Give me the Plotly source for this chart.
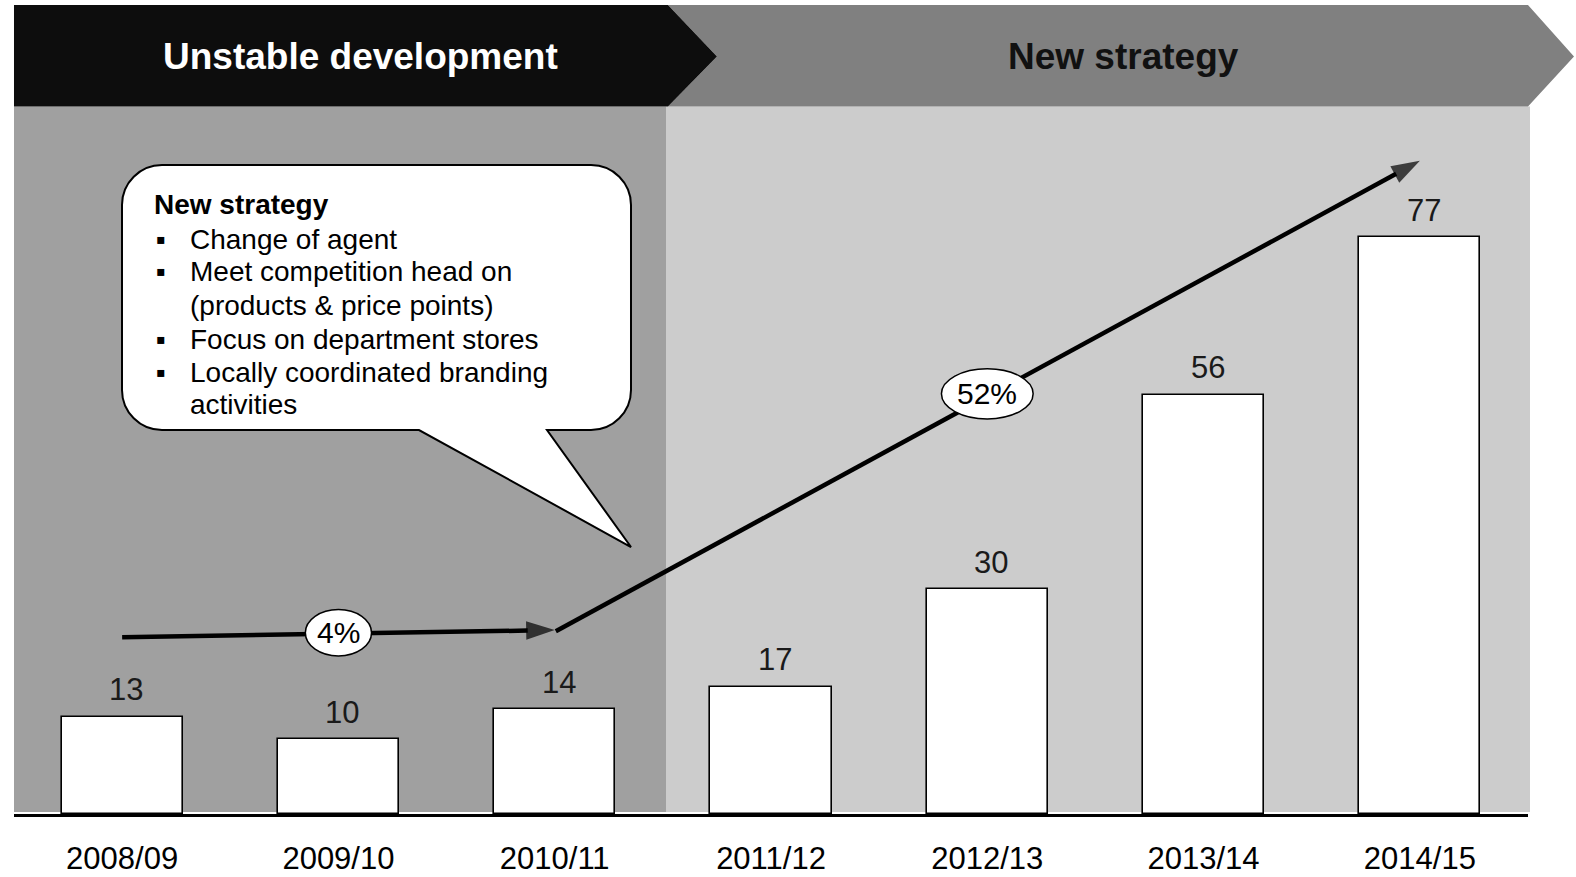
import plotly.graph_objects as go

# ---------------- data ----------------
categories = ["2008/09", "2009/10", "2010/11", "2011/12", "2012/13", "2013/14", "2014/15"]
values = [13, 10, 14, 17, 30, 56, 77]
value_labels = ["13", "10", "14", "17", "30", "56", "77"]

phase_labels = ["Unstable development", "New strategy"]

growth_labels = ["4%", "52%"]
growth_label_x = [1, 4]          # category index of the label
growth_label_y = [24.2, 56.1]    # height of the trend arrow at that point

arrow1_x = [0, 2.0]
arrow1_y = [23.6, 24.55]
arrow2_x = [2.005, 6.0]
arrow2_y = [24.4, 87.2]

callout_title = "New strategy"
callout_lines = ["Change of agent", "Meet competition head on", "(products & price points)",
                 "Focus on department stores", "Locally coordinated branding", "activities"]
callout_bullets = [True, True, False, True, True, False]

# ---------------- geometry helpers ----------------
W, H = 1576, 877
FONT = "Liberation Sans, Arial, sans-serif"


def X(px):
    return px / W


def Y(py):
    return 1 - py / H


def poly(points):
    s = "M " + " L ".join(f"{X(a):.5f},{Y(b):.5f}" for a, b in points) + " Z"
    return s


fig = go.Figure()

# bars
fig.add_trace(go.Bar(
    x=list(range(len(categories))), y=values, width=0.56,
    marker=dict(color="white", line=dict(color="black", width=1.6)),
    hoverinfo="skip", showlegend=False,
))

# trend arrows
for ax_, ay_ in [(arrow1_x, arrow1_y), (arrow2_x, arrow2_y)]:
    fig.add_trace(go.Scatter(
        x=ax_, y=ay_, mode="lines+markers",
        line=dict(color="black", width=4.5),
        marker=dict(symbol=["circle", "arrow"], size=[0.1, 30], color="black",
                    angleref="previous", line=dict(width=0)),
        hoverinfo="skip", showlegend=False, cliponaxis=False,
    ))

shapes = []
# background panels
shapes.append(dict(type="rect", xref="paper", yref="paper", x0=X(14), x1=X(666), y0=Y(812), y1=Y(106.5),
                   fillcolor="#a0a0a0", line=dict(width=0), layer="below"))
shapes.append(dict(type="rect", xref="paper", yref="paper", x0=X(666), x1=X(1530), y0=Y(812), y1=Y(106.5),
                   fillcolor="#cccccc", line=dict(width=0), layer="below"))
# header chevrons
shapes.append(dict(type="path", xref="paper", yref="paper",
                   path=poly([(668, 5), (1528, 5), (1574, 56.5), (1528, 106.5), (668, 106.5), (717, 56.5)]),
                   fillcolor="#808080", line=dict(width=0), layer="below"))
shapes.append(dict(type="path", xref="paper", yref="paper",
                   path=poly([(14, 5), (668, 5), (717, 56.5), (668, 106.5), (14, 106.5)]),
                   fillcolor="#0d0d0d", line=dict(width=0), layer="below"))

# callout bubble
L, R, T, B, r = 122, 631, 165, 430, 40
k = 0.552 * r


def P(a, b):
    return f"{X(a):.5f},{Y(b):.5f}"


path = (f"M {P(L + r, T)} L {P(R - r, T)} C {P(R - r + k, T)} {P(R, T + r - k)} {P(R, T + r)} "
        f"L {P(R, B - r)} C {P(R, B - r + k)} {P(R - r + k, B)} {P(R - r, B)} "
        f"L {P(547, B)} L {P(631, 547)} L {P(419, B)} "
        f"L {P(L + r, B)} C {P(L + r - k, B)} {P(L, B - r + k)} {P(L, B - r)} "
        f"L {P(L, T + r)} C {P(L, T + r - k)} {P(L + r - k, T)} {P(L + r, T)} Z")
shapes.append(dict(type="path", xref="paper", yref="paper", path=path,
                   fillcolor="white", line=dict(color="black", width=2), layer="above"))

# growth ellipses
ell_w = [0.153, 0.212]
ell_h = [3.1, 3.35]
for gx, gy, w, h in zip(growth_label_x, growth_label_y, ell_w, ell_h):
    shapes.append(dict(type="circle", xref="x", yref="y", x0=gx - w, x1=gx + w, y0=gy - h, y1=gy + h,
                       fillcolor="white", line=dict(color="black", width=1.5), layer="above"))

annotations = []
# header texts
annotations.append(dict(xref="paper", yref="paper", x=X(360), y=Y(57), text=f"<b>{phase_labels[0]}</b>",
                        showarrow=False, font=dict(family=FONT, size=37, color="white"),
                        xanchor="center", yanchor="middle"))
annotations.append(dict(xref="paper", yref="paper", x=X(1123), y=Y(57), text=f"<b>{phase_labels[1]}</b>",
                        showarrow=False, font=dict(family=FONT, size=37, color="#111111"),
                        xanchor="center", yanchor="middle"))

# value labels
for i, (v, t) in enumerate(zip(values, value_labels)):
    annotations.append(dict(x=i, y=v, text=t, showarrow=False, yshift=27, xshift=4,
                            font=dict(family=FONT, size=31, color="#1a1a1a"),
                            xanchor="center", yanchor="middle"))

# growth labels
for gx, gy, t in zip(growth_label_x, growth_label_y, growth_labels):
    annotations.append(dict(x=gx, y=gy, text=t, showarrow=False,
                            font=dict(family=FONT, size=30, color="black"),
                            xanchor="center", yanchor="middle"))

# callout text
line_y = [239, 272, 305.5, 339, 372, 405]
annotations.append(dict(xref="paper", yref="paper", x=X(152), y=Y(205), text=f"<b>{callout_title}</b>",
                        showarrow=False, font=dict(family=FONT, size=28, color="black"),
                        xanchor="left", yanchor="middle"))
for ly, txt, bul in zip(line_y, callout_lines, callout_bullets):
    annotations.append(dict(xref="paper", yref="paper", x=X(188), y=Y(ly), text=txt,
                            showarrow=False, font=dict(family=FONT, size=28, color="black"),
                            xanchor="left", yanchor="middle"))
    if bul:
        annotations.append(dict(xref="paper", yref="paper", x=X(161), y=Y(ly), text="▪",
                                showarrow=False, font=dict(family=FONT, size=28, color="black"),
                                xanchor="center", yanchor="middle"))

fig.update_layout(
    width=W, height=H, autosize=False,
    margin=dict(l=0, r=0, t=0, b=0, autoexpand=False),
    paper_bgcolor="white", plot_bgcolor="rgba(0,0,0,0)",
    shapes=shapes, annotations=annotations,
    showlegend=False, bargap=0,
    xaxis=dict(range=[-0.5, 6.5], domain=[14 / W, 1528 / W], tickvals=list(range(len(categories))),
               ticktext=categories, showgrid=False, zeroline=False, showline=True,
               linecolor="black", linewidth=2.5, ticks="", ticklabelstandoff=15, automargin=False,
               tickfont=dict(family=FONT, size=31, color="black"), fixedrange=True),
    yaxis=dict(range=[0, 814 / 7.49], domain=[63 / H, 1], visible=False, fixedrange=True,
               automargin=False),
)

fig.write_html("out.html")
